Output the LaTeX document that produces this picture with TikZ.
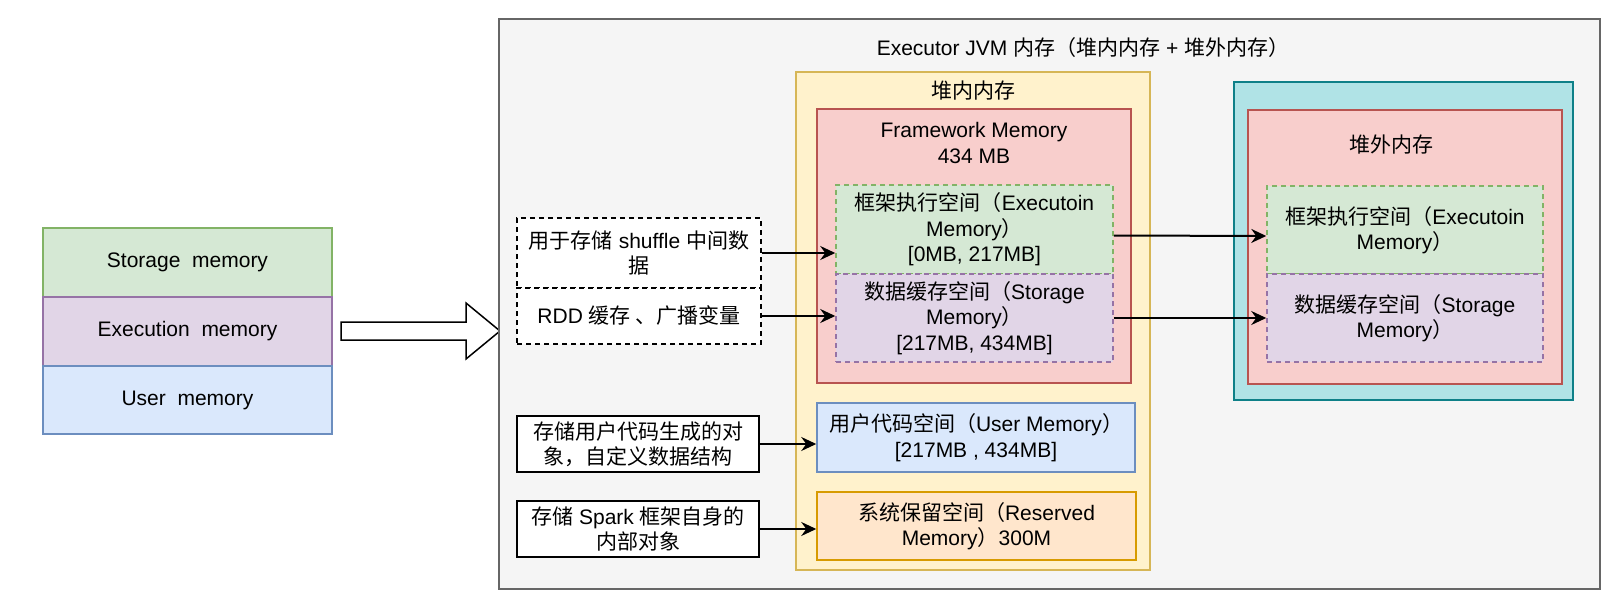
\documentclass[tikz,border=0pt]{standalone}
\usepackage{fontspec}
\setmainfont{Liberation Sans}
\newfontfamily\zhfont{Noto Sans CJK SC}
\newcommand{\zh}[1]{{\zhfont #1}}
\usetikzlibrary{arrows.meta}

\definecolor{grnfill}{HTML}{D5E8D4}
\definecolor{grnline}{HTML}{82B366}
\definecolor{purfill}{HTML}{E1D5E7}
\definecolor{purline}{HTML}{9673A6}
\definecolor{blufill}{HTML}{DAE8FC}
\definecolor{bluline}{HTML}{6C8EBF}
\definecolor{gryfill}{HTML}{F5F5F5}
\definecolor{gryline}{HTML}{666666}
\definecolor{ylwfill}{HTML}{FFF2CC}
\definecolor{ylwline}{HTML}{D6B656}
\definecolor{redfill}{HTML}{F8CECC}
\definecolor{redline}{HTML}{B85450}
\definecolor{orgfill}{HTML}{FFE6CC}
\definecolor{orgline}{HTML}{D79B00}
\definecolor{cyafill}{HTML}{B0E3E6}
\definecolor{cyaline}{HTML}{0E8088}

\tikzset{
  box/.style={draw, line width=1.5pt, inner sep=0pt, align=center},
  dbox/.style={box, dash pattern=on 5pt off 4pt},
  link/.style={-{Stealth[length=15pt,width=14pt,inset=5pt]}, line width=2pt},
}

\begin{document}
\begin{tikzpicture}[x=1pt, y=-1pt, font=\fontsize{21}{25.5}\selectfont]
      \useasboundingbox[fill=white] (0,0) rectangle (1615,607);

      % memory stack on the left
      \node[box, draw=grnline, fill=grnfill, minimum width=289pt, minimum height=69pt] (stor) at (187.5,262.5) {Storage\ \ memory};
      \node[box, draw=purline, fill=purfill, minimum width=289pt, minimum height=69pt] (execm) at (187.5,331.5) {Execution\ \ memory};
      \node[box, draw=bluline, fill=blufill, minimum width=289pt, minimum height=68pt] (userm) at (187.5,400) {User\ \ memory};

      \draw[line width=1.5pt, fill=white] (341,322)--(466,322)--(466,303)--(500,331)--(466,359)--(466,340)--(341,340)--cycle;

      % executor
      \node[box, draw=gryline, fill=gryfill, minimum width=1101pt, minimum height=570pt] (jvm) at (1049.5,304) {};
      \node (jvmtext) at (1083,48) {Executor JVM \zh{内存（堆内内存} + \zh{堆外内存）}};

      \node[box, draw=ylwline, fill=ylwfill, minimum width=354pt, minimum height=498pt] (onheap) at (973,321) {};
      \node (onheaptext) at (973,91) {\zh{堆内内存}};
      \node[box, draw=redline, fill=redfill, minimum width=314pt, minimum height=274pt] (frame) at (974,246) {};
      \node[align=center] (frametext) at (974,143) {Framework Memory\\434 MB};
      \node[dbox, draw=grnline, fill=grnfill, minimum width=277pt, minimum height=89pt] (exec) at (974.5,229.5)
        {\zh{框架执行空间（}Executoin\\Memory\zh{）}\\{[0MB, 217MB]}};
      \node[dbox, draw=purline, fill=purfill, minimum width=277pt, minimum height=88pt] (stg) at (974.5,318)
        {\zh{数据缓存空间（}Storage\\Memory\zh{）}\\{[217MB, 434MB]}};
      \node[box, draw=bluline, fill=blufill, minimum width=318pt, minimum height=69pt] (user) at (976,437.5)
        {\zh{用户代码空间（}User Memory\zh{）}\\{[217MB , 434MB]}};
      \node[box, draw=orgline, fill=orgfill, minimum width=319pt, minimum height=68pt] (rsv) at (976.5,526)
        {\zh{系统保留空间（}Reserved\\Memory\zh{）}300M};

      \node[box, draw=cyaline, fill=cyafill, minimum width=339pt, minimum height=318pt] (offheap) at (1403.5,241) {};
      \node[box, draw=redline, fill=redfill, minimum width=314pt, minimum height=274pt] (offframe) at (1405,247) {};
      \node (offtext) at (1391,145) {\zh{堆外内存}};
      \node[dbox, draw=grnline, fill=grnfill, minimum width=276pt, minimum height=88pt] (offexec) at (1405,230)
        {\zh{框架执行空间（}Executoin\\Memory\zh{）}};
      \node[dbox, draw=purline, fill=purfill, minimum width=276pt, minimum height=88pt] (offstg) at (1405,318)
        {\zh{数据缓存空间（}Storage\\Memory\zh{）}};

      % notes
      \node[dbox, draw=black, fill=white, minimum width=244pt, minimum height=70pt] (shuf) at (639,253)
        {\zh{用于存储} shuffle \zh{中间数}\\\zh{据}};
      \node[dbox, draw=black, fill=white, minimum width=244pt, minimum height=56pt] (rdd) at (639,316)
        {RDD \zh{缓存 、广播变量}};
      \node[box, draw=black, fill=white, minimum width=242pt, minimum height=56pt] (obj) at (638,444)
        {\zh{存储用户代码生成的对}\\\zh{象，自定义数据结构}};
      \node[box, draw=black, fill=white, minimum width=242pt, minimum height=56pt] (inner) at (638,529)
        {\zh{存储} Spark \zh{框架自身的}\\\zh{内部对象}};

      \draw[link] (shuf.east) -- (shuf.east -| exec.west);
      \draw[link] (rdd.east) -- (rdd.east -| stg.west);
      \draw[link] (obj.east) -- (obj.east -| user.west);
      \draw[link] (inner.east) -- (inner.east -| rsv.west);
      \draw[link] ([yshift=-6pt]exec.east) -- ([yshift=-6pt]offexec.west);
      \draw[link] (stg.east) -- (offstg.west);
    \end{tikzpicture}
\end{document}
